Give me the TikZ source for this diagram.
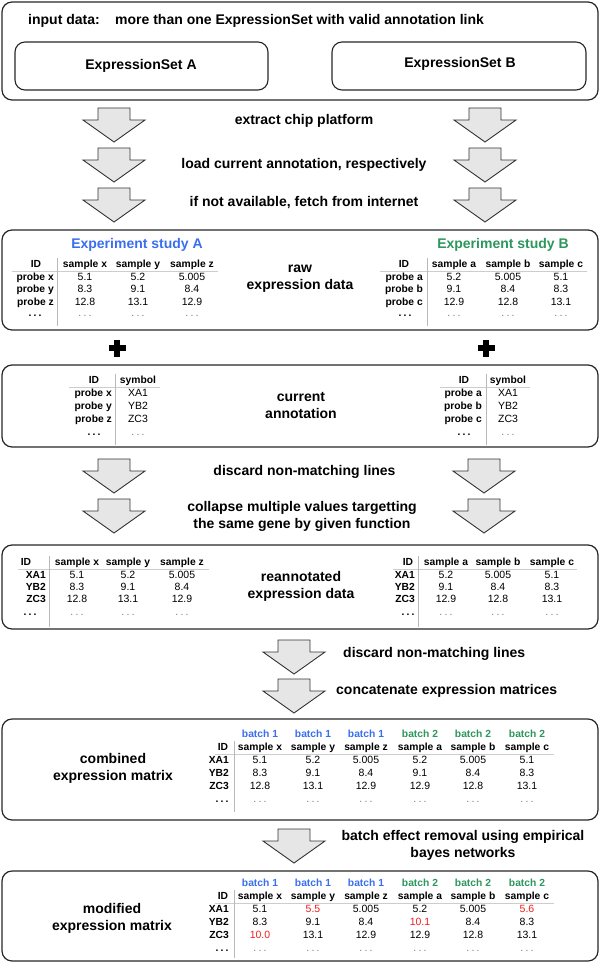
\documentclass[tikz,border=0pt]{standalone}
\usepackage{fontspec}
\setmainfont{Liberation Sans}
\definecolor{bl}{RGB}{58,110,240}
\definecolor{gr}{RGB}{44,150,92}
\definecolor{rd}{RGB}{240,30,30}
\definecolor{lgray}{RGB}{205,205,205}
\definecolor{vgray}{RGB}{185,185,185}
\definecolor{agray}{RGB}{230,230,230}
\definecolor{dgray}{RGB}{120,120,120}
\newcounter{cc}
\newcommand\cell[4]{\stepcounter{cc}\node[#1] (c\arabic{cc}) at (#2,#3) {#4};}
\newcommand\dts{.\hspace{2.2pt}.\hspace{2.2pt}.}
\newcommand\barrow[2]{\draw[blockarrow] (#1-16,#2) -- (#1+16,#2) -- (#1+16,#2+12) -- (#1+31,#2+12) -- (#1,#2+34) -- (#1-31,#2+12) -- (#1-16,#2+12) -- cycle;}
\newcommand\plussign[2]{\draw[plusline] (#1-8.5,#2) -- (#1+8.5,#2); \draw[plusline] (#1,#2-8.5) -- (#1,#2+8.5);}
\begin{document}
\begin{tikzpicture}[x=1pt,y=-1pt,
 bigbox/.style={draw=black!85, line width=1.2pt, rounded corners=10pt},
 smallbox/.style={draw=black!85, line width=1.1pt, rounded corners=10pt},
 lbl/.style={font=\fontsize{14}{17}\selectfont\bfseries, inner sep=0pt, anchor=mid, align=center},
 mlbl/.style={font=\fontsize{14}{17}\selectfont\bfseries, inner sep=0pt, anchor=center, align=center},
 hdr/.style={font=\fontsize{10.3}{12}\selectfont\bfseries, inner sep=0pt, anchor=mid},
 rowl/.style={hdr, anchor=mid east},
 val/.style={font=\fontsize{10.5}{12}\selectfont, inner sep=0pt, anchor=mid},
 dval/.style={val, text=dgray},
 rval/.style={val, text=rd},
 bhdr/.style={hdr, text=bl},
 ghdr/.style={hdr, text=gr},
 blockarrow/.style={draw=black!80, fill=agray, line width=0.9pt, line join=miter},
 tline/.style={draw=lgray, line width=0.8pt},
 vline/.style={draw=vgray, line width=0.8pt},
 plusline/.style={draw=black, line width=5.5pt},
]
\useasboundingbox (0,0) rectangle (600,963);

% ---------- box 1
\draw[bigbox] (2,2) rectangle (598,100);
\node[lbl, anchor=mid west] (t1) at (28,22) {input data:};
\node[lbl, anchor=mid west] (t2) at (115,22) {more than one ExpressionSet with valid annotation link};
\draw[smallbox] (15,42) rectangle (268,90);
\draw[smallbox] (332,42) rectangle (586,90);
\node[lbl] (esA) at (141,67) {ExpressionSet A};
\node[lbl] (esB) at (460,65) {ExpressionSet B};

% ---------- arrows set 1
\barrow{114}{108}\barrow{485}{108}
\barrow{114}{148}\barrow{485}{148}
\barrow{114}{188}\barrow{485}{188}
\node[lbl] (s1) at (304,122) {extract chip platform};
\node[lbl] (s2) at (304,166) {load current annotation, respectively};
\node[lbl] (s3) at (304,204) {if not available, fetch from internet};

% ---------- box 2 raw
\draw[bigbox] (2,230) rectangle (598,330);
\node[mlbl] (raw) at (300,279) {raw\\expression data};
\node[lbl, text=bl] (expA) at (137,246) {Experiment study A};
\node[lbl, text=gr] (expB) at (503,246) {Experiment study B};
\draw[tline] (12,271) -- (218,271);
\draw[vline] (57,258) -- (57,326);
\cell{hdr}{36}{265}{ID}\cell{hdr}{85}{265}{sample x}\cell{hdr}{138}{265}{sample y}\cell{hdr}{192}{265}{sample z}
\cell{rowl}{54}{277.5}{probe x}\cell{val}{85}{277.5}{5.1}\cell{val}{138}{277.5}{5.2}\cell{val}{192}{277.5}{5.005}
\cell{rowl}{54}{290}{probe y}\cell{val}{85}{290}{8.3}\cell{val}{138}{290}{9.1}\cell{val}{192}{290}{8.4}
\cell{rowl}{54}{302.5}{probe z}\cell{val}{85}{302.5}{12.8}\cell{val}{138}{302.5}{13.1}\cell{val}{192}{302.5}{12.9}
\cell{hdr}{35}{314}{\dts}\cell{dval}{85}{314}{\dts}\cell{dval}{138}{314}{\dts}\cell{dval}{192}{314}{\dts}
\draw[tline] (380,271) -- (587,271);
\draw[vline] (427,258) -- (427,326);
\cell{hdr}{404}{265}{ID}\cell{hdr}{454}{265}{sample a}\cell{hdr}{508}{265}{sample b}\cell{hdr}{561}{265}{sample c}
\cell{rowl}{423}{277.5}{probe a}\cell{val}{454}{277.5}{5.2}\cell{val}{508}{277.5}{5.005}\cell{val}{561}{277.5}{5.1}
\cell{rowl}{423}{290}{probe b}\cell{val}{454}{290}{9.1}\cell{val}{508}{290}{8.4}\cell{val}{561}{290}{8.3}
\cell{rowl}{423}{302.5}{probe c}\cell{val}{454}{302.5}{12.9}\cell{val}{508}{302.5}{12.8}\cell{val}{561}{302.5}{13.1}
\cell{hdr}{405}{314}{\dts}\cell{dval}{454}{314}{\dts}\cell{dval}{508}{314}{\dts}\cell{dval}{561}{314}{\dts}

% ---------- plus signs
\plussign{117}{348}\plussign{486}{348}

% ---------- box 3 annotation
\draw[bigbox] (2,365) rectangle (598,447);
\node[mlbl] (cur) at (301,405) {current\\annotation};
\draw[tline] (69,387) -- (160,387);
\draw[vline] (115,374) -- (115,445);
\cell{hdr}{94}{381}{ID}\cell{hdr}{138}{381}{symbol}
\cell{rowl}{112}{394}{probe x}\cell{val}{138}{394}{XA1}
\cell{rowl}{112}{407}{probe y}\cell{val}{138}{407}{YB2}
\cell{rowl}{112}{419.5}{probe z}\cell{val}{138}{419.5}{ZC3}
\cell{hdr}{94}{433}{\dts}\cell{dval}{138}{433}{\dts}
\draw[tline] (440,387) -- (530,387);
\draw[vline] (486,374) -- (486,445);
\cell{hdr}{464}{381}{ID}\cell{hdr}{508}{381}{symbol}
\cell{rowl}{482}{394}{probe a}\cell{val}{508}{394}{XA1}
\cell{rowl}{482}{407}{probe b}\cell{val}{508}{407}{YB2}
\cell{rowl}{482}{419.5}{probe c}\cell{val}{508}{419.5}{ZC3}
\cell{hdr}{464}{433}{\dts}\cell{dval}{508}{433}{\dts}

% ---------- arrows set 2
\barrow{114}{459}\barrow{484}{459}
\barrow{114}{499}\barrow{484}{499}
\node[lbl] (s4) at (304.5,473) {discard non-matching lines};
\node[mlbl] (s5) at (302,516) {collapse multiple values targetting\\the same gene by given function};

% ---------- box 4 reannotated
\draw[bigbox] (2,545) rectangle (598,629);
\node[mlbl] (rean) at (301,586) {reannotated\\expression data};
\draw[tline] (18,569) -- (209,569);
\draw[vline] (49,556) -- (49,627);
\cell{hdr}{26}{563}{ID}\cell{hdr}{77}{563}{sample x}\cell{hdr}{128}{563}{sample y}\cell{hdr}{182}{563}{sample z}
\cell{rowl}{46}{575.5}{XA1}\cell{val}{77}{575.5}{5.1}\cell{val}{128}{575.5}{5.2}\cell{val}{182}{575.5}{5.005}
\cell{rowl}{46}{587.5}{YB2}\cell{val}{77}{587.5}{8.3}\cell{val}{128}{587.5}{9.1}\cell{val}{182}{587.5}{8.4}
\cell{rowl}{46}{599.5}{ZC3}\cell{val}{77}{599.5}{12.8}\cell{val}{128}{599.5}{13.1}\cell{val}{182}{599.5}{12.9}
\cell{hdr}{30}{613}{\dts}\cell{dval}{77}{613}{\dts}\cell{dval}{128}{613}{\dts}\cell{dval}{182}{613}{\dts}
\draw[tline] (393,569) -- (577,569);
\draw[vline] (418,556) -- (418,627);
\cell{hdr}{408}{563}{ID}\cell{hdr}{446}{563}{sample a}\cell{hdr}{498}{563}{sample b}\cell{hdr}{552}{563}{sample c}
\cell{rowl}{415}{575.5}{XA1}\cell{val}{446}{575.5}{5.2}\cell{val}{498}{575.5}{5.005}\cell{val}{552}{575.5}{5.1}
\cell{rowl}{415}{587.5}{YB2}\cell{val}{446}{587.5}{9.1}\cell{val}{498}{587.5}{8.4}\cell{val}{552}{587.5}{8.3}
\cell{rowl}{415}{599.5}{ZC3}\cell{val}{446}{599.5}{12.9}\cell{val}{498}{599.5}{12.8}\cell{val}{552}{599.5}{13.1}
\cell{hdr}{408}{613}{\dts}\cell{dval}{446}{613}{\dts}\cell{dval}{498}{613}{\dts}\cell{dval}{552}{613}{\dts}

% ---------- arrows set 3
\barrow{294}{640}
\barrow{294}{679}
\node[lbl, anchor=mid west] (s6) at (343,655) {discard non-matching lines};
\node[lbl, anchor=mid west] (s7) at (336,692) {concatenate expression matrices};

% ---------- box 5 combined
\draw[bigbox] (2,719) rectangle (598,820);
\node[mlbl] (comb) at (113,768) {combined\\expression matrix};
\draw[tline] (215,754) -- (554,754);
\draw[vline] (234,741) -- (234,812);
\cell{bhdr}{260}{735}{batch 1}\cell{bhdr}{313}{735}{batch 1}\cell{bhdr}{366}{735}{batch 1}
\cell{ghdr}{420}{735}{batch 2}\cell{ghdr}{473}{735}{batch 2}\cell{ghdr}{527}{735}{batch 2}
\cell{hdr}{223}{748}{ID}\cell{hdr}{260}{748}{sample x}\cell{hdr}{313}{748}{sample y}\cell{hdr}{366}{748}{sample z}\cell{hdr}{420}{748}{sample a}\cell{hdr}{473}{748}{sample b}\cell{hdr}{527}{748}{sample c}
\cell{rowl}{229}{761}{XA1}\cell{val}{260}{761}{5.1}\cell{val}{313}{761}{5.2}\cell{val}{366}{761}{5.005}\cell{val}{420}{761}{5.2}\cell{val}{473}{761}{5.005}\cell{val}{527}{761}{5.1}
\cell{rowl}{229}{774}{YB2}\cell{val}{260}{774}{8.3}\cell{val}{313}{774}{9.1}\cell{val}{366}{774}{8.4}\cell{val}{420}{774}{9.1}\cell{val}{473}{774}{8.4}\cell{val}{527}{774}{8.3}
\cell{rowl}{229}{787}{ZC3}\cell{val}{260}{787}{12.8}\cell{val}{313}{787}{13.1}\cell{val}{366}{787}{12.9}\cell{val}{420}{787}{12.9}\cell{val}{473}{787}{12.8}\cell{val}{527}{787}{13.1}
\cell{hdr}{222}{800}{\dts}\cell{dval}{260}{800}{\dts}\cell{dval}{313}{800}{\dts}\cell{dval}{366}{800}{\dts}\cell{dval}{420}{800}{\dts}\cell{dval}{473}{800}{\dts}\cell{dval}{527}{800}{\dts}

% ---------- arrow 4
\barrow{294}{829}
\node[mlbl] (s8) at (463,845) {batch effect removal using empirical\\bayes networks};

% ---------- box 6 modified
\draw[bigbox] (2,871) rectangle (598,961);
\node[mlbl] (mod) at (112,918) {modified\\expression matrix};
\draw[tline] (215,903) -- (554,903);
\draw[vline] (234,890) -- (234,958);
\cell{bhdr}{260}{884}{batch 1}\cell{bhdr}{313}{884}{batch 1}\cell{bhdr}{366}{884}{batch 1}
\cell{ghdr}{420}{884}{batch 2}\cell{ghdr}{473}{884}{batch 2}\cell{ghdr}{527}{884}{batch 2}
\cell{hdr}{223}{897}{ID}\cell{hdr}{260}{897}{sample x}\cell{hdr}{313}{897}{sample y}\cell{hdr}{366}{897}{sample z}\cell{hdr}{420}{897}{sample a}\cell{hdr}{473}{897}{sample b}\cell{hdr}{527}{897}{sample c}
\cell{rowl}{229}{910}{XA1}\cell{val}{260}{910}{5.1}\cell{rval}{313}{910}{5.5}\cell{val}{366}{910}{5.005}\cell{val}{420}{910}{5.2}\cell{val}{473}{910}{5.005}\cell{rval}{527}{910}{5.6}
\cell{rowl}{229}{923}{YB2}\cell{val}{260}{923}{8.3}\cell{val}{313}{923}{9.1}\cell{val}{366}{923}{8.4}\cell{rval}{420}{923}{10.1}\cell{val}{473}{923}{8.4}\cell{val}{527}{923}{8.3}
\cell{rowl}{229}{936}{ZC3}\cell{rval}{260}{936}{10.0}\cell{val}{313}{936}{13.1}\cell{val}{366}{936}{12.9}\cell{val}{420}{936}{12.9}\cell{val}{473}{936}{12.8}\cell{val}{527}{936}{13.1}
\cell{hdr}{222}{949}{\dts}\cell{dval}{260}{949}{\dts}\cell{dval}{313}{949}{\dts}\cell{dval}{366}{949}{\dts}\cell{dval}{420}{949}{\dts}\cell{dval}{473}{949}{\dts}\cell{dval}{527}{949}{\dts}
\end{tikzpicture}
\end{document}
